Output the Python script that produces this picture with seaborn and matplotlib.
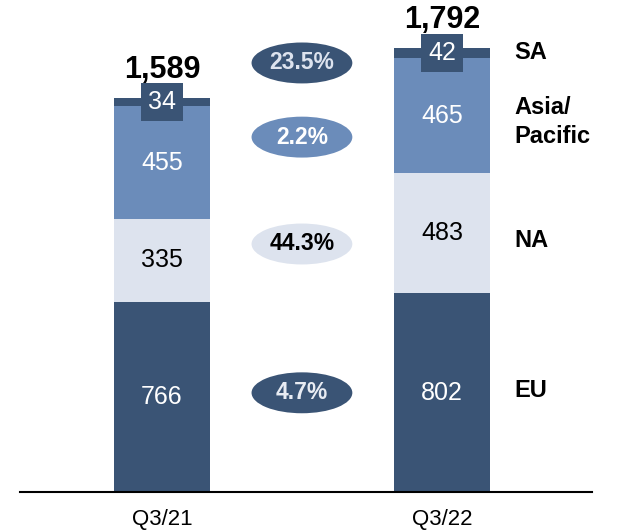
import matplotlib
matplotlib.use("Agg")
from matplotlib import pyplot as plt
from matplotlib.patches import Ellipse
import seaborn as sns
import pandas as pd

quarters = ["Q3/21", "Q3/22"]
regions = ["EU", "NA", "Asia/\nPacific", "SA"]
eu = [766, 802]
na = [335, 483]
asia = [455, 465]
sa = [34, 42]
totals = [1589, 1792]
growth = ["4.7%", "44.3%", "2.2%", "23.5%"]

dark = "#3a5475"
mid = "#6b8cba"
light = "#dde3ee"
seg_colors = [dark, light, mid, dark]
txt_colors = ["white", "black", "white", "white"]

sns.set_style("white")
plt.rcParams['font.family'] = ['Liberation Sans', 'DejaVu Sans']

df = pd.DataFrame({"quarter": quarters, "EU": eu, "NA": na, "Asia": asia, "SA": sa})
layers = ["EU", "NA", "Asia", "SA"]
cum = df[layers].cumsum(axis=1)

fig = plt.figure(figsize=(6.19, 5.32), dpi=100)
px_per_unit = 0.248
ax = fig.add_axes([20/619, 40/532, 572/619, 492/532])

# draw stacked bars, top layer first
for lay, col in reversed(list(zip(layers, seg_colors))):
    sns.barplot(x=df["quarter"], y=cum[lay], color=col, width=0.34,
                saturation=1, ax=ax, linewidth=0)

ax.set_xlim(-0.507, 1.536)
ax.set_ylim(0, 492/px_per_unit)

# segment labels
for i in range(len(quarters)):
    bottom = 0
    for j, lay in enumerate(layers):
        v = df[lay][i]
        mid_y = bottom + v / 2
        if lay == "SA":
            ax.text(i, mid_y, str(v), ha="center", va="center", fontsize=18,
                    color="white",
                    bbox=dict(boxstyle="square,pad=0.28", fc=dark, ec="none"))
        else:
            ax.text(i, mid_y, str(v), ha="center", va="center", fontsize=18,
                    color=txt_colors[j])
        bottom += v
    ax.text(i, cum["SA"][i] + 112, f"{totals[i]:,}", ha="center", va="center",
            fontsize=22, fontweight="bold", color="black")

# growth ellipses
ell_y = [400, 1000, 1431, 1730]
ell_fc = [dark, light, mid, dark]
ell_tc = ["#e8ecf3", "black", "white", "#dde3ee"]
for y, g, fc, tc in zip(ell_y, growth, ell_fc, ell_tc):
    ax.add_patch(Ellipse((0.5, y), 0.36, 165, fc=fc, ec="none"))
    ax.text(0.5, y, g, ha="center", va="center", fontsize=16.5,
            fontweight="bold", color=tc)

# region labels on the right
label_y = [411, 1016, 1492, 1774]
for y, r in zip(label_y, regions):
    ax.text(1.26, y, r, ha="left", va="center", fontsize=17,
            fontweight="bold", color="black", linespacing=1.3)

for s in ["top", "right", "left"]:
    ax.spines[s].set_visible(False)
ax.spines["bottom"].set_linewidth(1.5)
ax.spines["bottom"].set_color("black")
ax.set_yticks([])
ax.set_xlabel("")
ax.set_ylabel("")
ax.tick_params(axis="x", length=0, labelsize=16, labelcolor="black", pad=12)

fig.savefig("out.png", dpi=100)
